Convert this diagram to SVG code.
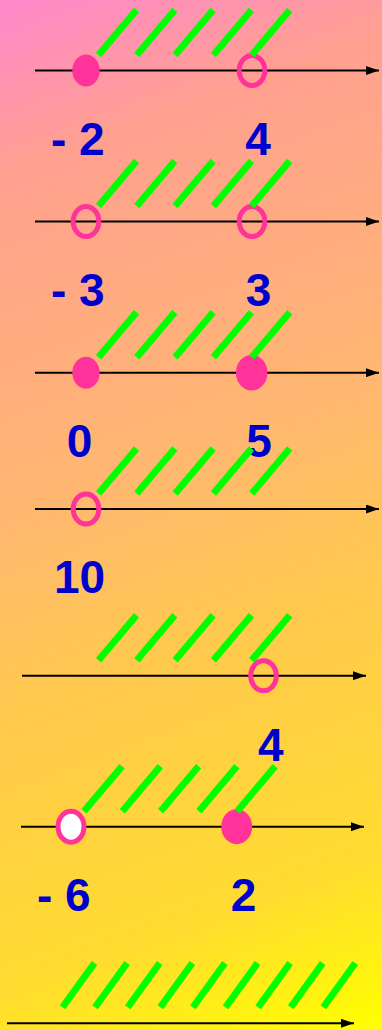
<svg xmlns="http://www.w3.org/2000/svg" width="382" height="1030" viewBox="0 0 382 1030">
<defs>
<linearGradient id="bg" gradientUnits="userSpaceOnUse" x1="0" y1="0" x2="382" y2="1030">
<stop offset="0" stop-color="#FF88CC"/>
<stop offset="0.15" stop-color="#FFA090"/>
<stop offset="0.45" stop-color="#FFB870"/>
<stop offset="0.6" stop-color="#FFC850"/>
<stop offset="0.85" stop-color="#FFDC30"/>
<stop offset="1" stop-color="#FFFF00"/>
</linearGradient>
<marker id="arr" markerUnits="userSpaceOnUse" markerWidth="13" markerHeight="9" refX="13" refY="4.5" orient="auto">
<path d="M0,0 L13,4.5 L0,9 z" fill="#000"/>
</marker>
<g id="h5" stroke="#00FF00" stroke-width="6.8" stroke-linecap="butt">
<line x1="98.5" y1="-15.5" x2="136.5" y2="-60.5"/>
<line x1="136.8" y1="-15.5" x2="174.8" y2="-60.5"/>
<line x1="175.1" y1="-15.5" x2="213.1" y2="-60.5"/>
<line x1="213.4" y1="-15.5" x2="251.4" y2="-60.5"/>
<line x1="251.7" y1="-15.5" x2="289.7" y2="-60.5"/>
</g>
</defs>
<style>
.ax{stroke:#000;stroke-width:2;fill:none;marker-end:url(#arr)}
.h line{stroke:#00FF00;stroke-width:6.8;stroke-linecap:butt}
.open{fill:none;stroke:#FF3399;stroke-width:5}
.full{fill:#FF3399}
.lbl{font-family:"Liberation Sans",Arial,sans-serif;font-weight:bold;font-size:46px;fill:#0000CC}
</style>
<rect width="382" height="1030" fill="url(#bg)"/>
<g id="connectors">
<line class="ax" x1="35" y1="70.5" x2="379" y2="70.5"/>
<line class="ax" x1="35" y1="221.5" x2="379" y2="221.5"/>
<line class="ax" x1="35" y1="372.7" x2="379" y2="372.7"/>
<line class="ax" x1="35" y1="509" x2="379" y2="509"/>
<line class="ax" x1="22" y1="675.7" x2="366" y2="675.7"/>
<line class="ax" x1="21" y1="826.7" x2="364" y2="826.7"/>
<line class="ax" x1="7" y1="1023.3" x2="354" y2="1023.3"/>
</g>
<g id="p1">
<ellipse class="full" cx="86" cy="70.5" rx="13.7" ry="16"/>
<ellipse class="open" cx="252" cy="70.5" rx="12.8" ry="15"/>
<use href="#h5" transform="translate(0,70.5)"/>
<text class="lbl" x="51" y="155">- 2</text>
<text class="lbl" x="258" y="155" text-anchor="middle">4</text>
</g>
<g id="p2">
<ellipse class="open" cx="86" cy="221.5" rx="12.8" ry="15"/>
<ellipse class="open" cx="252" cy="221.5" rx="12.8" ry="15"/>
<use href="#h5" transform="translate(0,221.5)"/>
<text class="lbl" x="51" y="306">- 3</text>
<text class="lbl" x="258.5" y="306" text-anchor="middle">3</text>
</g>
<g id="p3">
<ellipse class="full" cx="86" cy="372.7" rx="13.7" ry="16"/>
<ellipse class="full" cx="251.7" cy="372.7" rx="15.8" ry="17.8"/>
<use href="#h5" transform="translate(0,372.7)"/>
<text class="lbl" x="79.5" y="457" text-anchor="middle">0</text>
<text class="lbl" x="259" y="457" text-anchor="middle">5</text>
</g>
<g id="p4">
<ellipse class="open" cx="86" cy="509" rx="12.8" ry="15"/>
<use href="#h5" transform="translate(0,509)"/>
<text class="lbl" x="79.5" y="593" text-anchor="middle">10</text>
</g>
<g id="p5">
<ellipse class="open" cx="263.5" cy="675.7" rx="12.8" ry="15"/>
<use href="#h5" transform="translate(0,675.7)"/>
<text class="lbl" x="270.7" y="761" text-anchor="middle">4</text>
</g>
<g id="p6">
<ellipse cx="71" cy="826.7" rx="13" ry="15.5" fill="#FFFFFF" stroke="#FF3399" stroke-width="5"/>
<ellipse class="full" cx="236.7" cy="826.7" rx="15.5" ry="17.5"/>
<use href="#h5" transform="translate(-14.5,826.7)"/>
<text class="lbl" x="37" y="911">- 6</text>
<text class="lbl" x="243.5" y="911" text-anchor="middle">2</text>
</g>
<g id="p7" class="h">
<line x1="62.5" y1="1007.3" x2="94.5" y2="963"/>
<line x1="95.1" y1="1007.3" x2="127.1" y2="963"/>
<line x1="127.7" y1="1007.3" x2="159.7" y2="963"/>
<line x1="160.3" y1="1007.3" x2="192.3" y2="963"/>
<line x1="192.9" y1="1007.3" x2="224.9" y2="963"/>
<line x1="225.5" y1="1007.3" x2="257.5" y2="963"/>
<line x1="258.1" y1="1007.3" x2="290.1" y2="963"/>
<line x1="290.7" y1="1007.3" x2="322.7" y2="963"/>
<line x1="323.3" y1="1007.3" x2="355.3" y2="963"/>
</g>
</svg>
